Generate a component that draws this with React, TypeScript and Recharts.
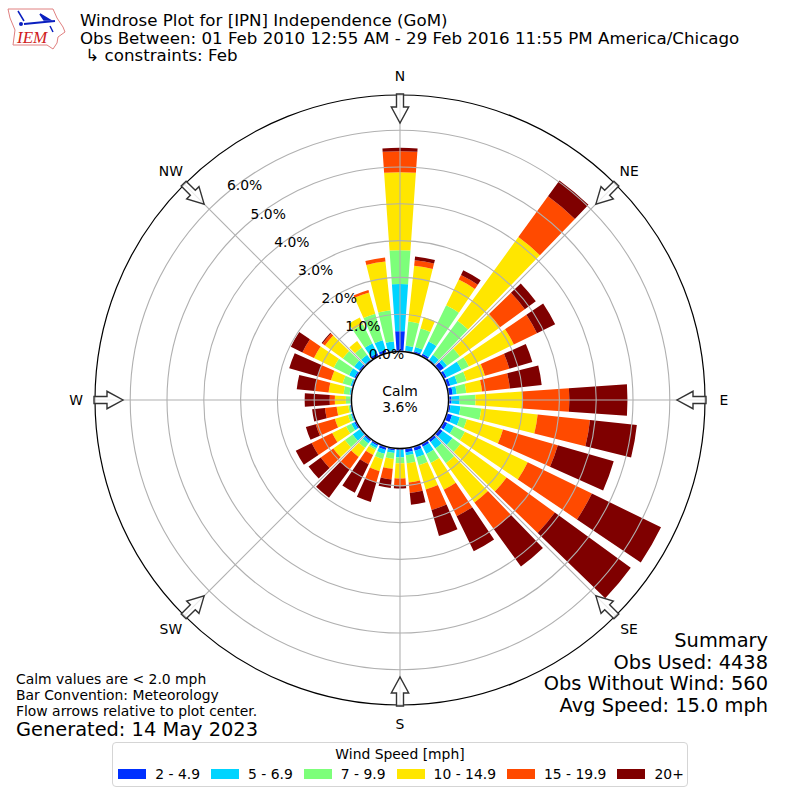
import {
  PolarAngleAxis,
  PolarGrid,
  PolarRadiusAxis,
  RadialBar,
  RadialBarChart,
} from "recharts";

const FONT = "'DejaVu Sans', sans-serif";

const directions = [
  0, 10, 20, 30, 40, 50, 60, 70, 80, 90, 100, 110, 120, 130, 140, 150, 160, 170,
  180, 190, 200, 210, 220, 230, 240, 250, 260, 270, 280, 290, 300, 310, 320, 330, 340, 350,
];

// percent of obs per direction, one array per speed bin
const speed2to5 = [
  0.54, 0.02, 0.05, 0.07, 0.03, 0.15, 0.08, 0.09, 0.11, 0.07, 0.05, 0.14, 0.1, 0.1, 0.08, 0.08, 0.1, 0.1,
  0.03, 0.05, 0.08, 0.05, 0.05, 0.02, 0.05, 0.03, 0.03, 0.01, 0.02, 0.03, 0.05, 0.05, 0.03, 0.08, 0.08, 0.03,
];
const speed5to7 = [
  1.28, 0.13, 0.12, 0.37, 0.16, 0.1, 0.45, 0.2, 0.11, 0.22, 0.27, 0.22, 0.2, 0.33, 0.22, 0.22, 0.19, 0.08,
  0.2, 0.07, 0.11, 0.08, 0.08, 0.24, 0.09, 0.03, 0.01, 0.01, 0.03, 0.04, 0.16, 0.16, 0.16, 0.3, 0.28, 0.24,
];
const speed7to10 = [
  0.92, 0.66, 0.52, 1.09, 1.14, 0.43, 0.22, 0.26, 0.26, 0.43, 0.57, 0.2, 0.33, 0.27, 0.49, 0.27, 0.22, 0.22,
  0.16, 0.16, 0.15, 0.05, 0.15, 0.26, 0.16, 0.08, 0.04, 0.12, 0.16, 0.22, 0.46, 0.38, 0.24, 0.58, 0.75, 0.85,
];
const speed10to15 = [
  2.12, 1.53, 0.32, 0.78, 2.81, 1.35, 1.36, 0.52, 0.43, 1.27, 1.54, 1.02, 1.9, 1.55, 1.32, 0.81, 0.69, 0.52,
  0.41, 0.27, 0.34, 0.15, 0.3, 0.39, 0.42, 0.37, 0.32, 0.3, 0.41, 0.33, 0.6, 0.6, 0.22, 0.2, 0.6, 1.33,
];
const speed15to20 = [
  0.57, 0.15, 0, 0.14, 1.37, 0.83, 0.7, 0.69, 0.76, 1.28, 1.43, 1.55, 1.94, 1.62, 0.9, 0.8, 0.58, 0.29,
  0.21, 0.29, 0.32, 0.28, 0.42, 0.42, 0.62, 0.54, 0.32, 0.14, 0.37, 0.37, 0.35, 0.08, 0, 0, 0.07, 0.11,
];
const speed20plus = [
  0.09, 0.1, 0, 0.14, 0.53, 0.37, 0.55, 0.65, 0.87, 1.58, 1.28, 1.58, 2.09, 2.55, 1.25, 1.06, 0.73, 0.32,
  0.06, 0.23, 0.55, 0.86, 0.95, 0.41, 0.48, 0.28, 0.35, 0.68, 0.5, 0.81, 0.35, 0.03, 0, 0, 0, 0,
];

const speedLabels = ["2 - 4.9", "5 - 6.9", "7 - 9.9", "10 - 14.9", "15 - 19.9", "20+"];
const speedColors = ["#0030ff", "#00d4ff", "#7dff7a", "#ffe600", "#ff4a00", "#7f0000"];
const speedSeries = [speed2to5, speed5to7, speed7to10, speed10to15, speed15to20, speed20plus];

const radiusTicks = [0, 1, 2, 3, 4, 5, 6];
const radiusDomain = [0, 7];
const compass = [
  ["N", 0],
  ["NE", 45],
  ["E", 90],
  ["SE", 135],
  ["S", 180],
  ["SW", 225],
  ["W", 270],
  ["NW", 315],
] as const;

const titleLines = [
  "Windrose Plot for [IPN] Independence (GoM)",
  "Obs Between: 01 Feb 2010 12:55 AM - 29 Feb 2016 11:55 PM America/Chicago",
  " ↳ constraints: Feb",
];
const summaryLines = ["Summary", "Obs Used: 4438", "Obs Without Wind: 560", "Avg Speed: 15.0 mph"];
const noteLines = [
  "Calm values are < 2.0 mph",
  "Bar Convention: Meteorology",
  "Flow arrows relative to plot center.",
];

const rows = directions.map((dir, i) => {
  const row: Record<string, number> = { dir };
  speedLabels.forEach((label, s) => {
    row[label] = speedSeries[s][i];
  });
  return row;
});

const CX = 400;
const CY = 400;
const chartProps = {
  width: 800,
  height: 800,
  data: rows,
  layout: "centric",
  cx: CX,
  cy: CY,
  innerRadius: 49,
  // the axis stops at 7 a little outside the black rim, which is drawn at 305
  outerRadius: 306.6,
  startAngle: 85,
  endAngle: -275,
  barSize: 8,
  margin: { top: 0, right: 0, bottom: 0, left: 0 },
} as const;

function RadiusTick({ x, y, payload }: any) {
  return (
    <text x={x + 18} y={y - 3} textAnchor="middle" fontSize={13.9} fontFamily={FONT} fill="#000">
      {payload.value.toFixed(1)}%
    </text>
  );
}

function Logo() {
  return (
    <g>
      <path
        d="M8 9 L53 9 L57 18 L63 27 L65 32 L58 37 L57 43 L53 49 L47 45 L13 45 L15 30 L10 18 Z"
        fill="none"
        stroke="#e08080"
        strokeWidth={1}
      />
      <path d="M24 24 L55 21" stroke="#0a1fc0" strokeWidth={2} fill="none" />
      <path d="M18 11 L24 21 M40 14 L50 20 L44 20 Z M50 26 L53 32" stroke="#0a1fc0" strokeWidth={1.5} fill="#0a1fc0" />
      <circle cx={21} cy={24} r={2} fill="#0a1fc0" />
      <text x={17} y={43} fontFamily="'Liberation Serif', serif" fontStyle="italic" fontSize={17} fill="#d02020">
        IEM
      </text>
    </g>
  );
}

function Overlay() {
  return (
    <svg width={800} height={800} style={{ position: "absolute", left: 0, top: 0, pointerEvents: "none" }}>
      <Logo />
      <g fontFamily={FONT} fill="#000">
        {titleLines.map((t, i) => (
          <text key={t} x={80} y={26 + i * 17.5} fontSize={16.67} style={{ whiteSpace: "pre" }}>
            {t}
          </text>
        ))}
        <circle cx={CX} cy={CY} r={305} fill="none" stroke="#000" strokeWidth={1.2} />
        {compass.map(([name, deg]) => {
          const rad = (deg * Math.PI) / 180;
          return (
            <g key={name}>
              <path
                transform={`rotate(${deg} ${CX} ${CY})`}
                d={`M${CX - 3.5} ${CY - 306} L${CX + 3.5} ${CY - 306} L${CX + 3.5} ${CY - 293} L${CX + 8.7} ${CY - 293} L${CX} ${CY - 277} L${CX - 8.7} ${CY - 293} L${CX - 3.5} ${CY - 293} Z`}
                fill="#ffffff"
                fillOpacity={0.75}
                stroke="#333"
                strokeWidth={1.4}
              />
              <text
                x={CX + 324 * Math.sin(rad)}
                y={CY - 324 * Math.cos(rad) + 5}
                textAnchor="middle"
                fontSize={13.9}
              >
                {name}
              </text>
            </g>
          );
        })}
        <circle cx={CX} cy={CY} r={48.5} fill="none" stroke="#000" strokeWidth={1.3} />
        <text x={CX} y={396} textAnchor="middle" fontSize={13.9}>
          Calm
        </text>
        <text x={CX} y={412} textAnchor="middle" fontSize={13.9}>
          3.6%
        </text>
        {summaryLines.map((t, i) => (
          <text key={t} x={768} y={647 + i * 21.7} textAnchor="end" fontSize={19.4}>
            {t}
          </text>
        ))}
        {noteLines.map((t, i) => (
          <text key={t} x={16} y={684 + i * 16.2} fontSize={13.9}>
            {t}
          </text>
        ))}
        <text x={16} y={736} fontSize={19.4}>
          Generated: 14 May 2023
        </text>
      </g>
    </svg>
  );
}

function SpeedLegend() {
  return (
    <div
      style={{
        position: "absolute",
        left: 112,
        top: 742,
        width: 576,
        height: 45,
        boxSizing: "border-box",
        border: "1px solid #d5d5d5",
        borderRadius: 4,
        background: "#fff",
        fontFamily: FONT,
        fontSize: 13.9,
        color: "#000",
      }}
    >
      <div style={{ textAlign: "center", lineHeight: "16px", marginTop: 3 }}>Wind Speed [mph]</div>
      <div style={{ display: "flex", justifyContent: "center", alignItems: "center", marginTop: 3, lineHeight: "18px", paddingLeft: 2 }}>
        {speedLabels.map((label, i) => (
          <div key={label} style={{ display: "flex", alignItems: "center", marginLeft: i ? 11 : 0 }}>
            <span style={{ width: 28, height: 10, background: speedColors[i], marginRight: 9 }} />
            <span style={{ whiteSpace: "nowrap" }}>{label}</span>
          </div>
        ))}
      </div>
    </div>
  );
}

export default function App() {
  return (
    <div style={{ position: "absolute", left: 0, top: 0, width: 800, height: 800, background: "#fff" }}>
      <div style={{ position: "absolute", left: 0, top: 0 }}>
        <RadialBarChart {...chartProps}>
          <PolarAngleAxis dataKey="dir" type="category" tick={false} tickLine={false} axisLine={false} />
          <PolarRadiusAxis type="number" domain={radiusDomain} ticks={radiusTicks} allowDataOverflow axisLine={false} tickLine={false} tick={false} />
          {speedLabels.map((label, i) => (
            <RadialBar key={label} dataKey={label} stackId="wind" fill={speedColors[i]} isAnimationActive={false} />
          ))}
        </RadialBarChart>
      </div>
      {/* second chart on top so the grid crosses the bars, as in the original */}
      <div style={{ position: "absolute", left: 0, top: 0 }}>
        <RadialBarChart {...chartProps}>
          <PolarAngleAxis dataKey="dir" type="category" tick={false} tickLine={false} axisLine={false} />
          <PolarRadiusAxis
            type="number"
            domain={radiusDomain}
            ticks={radiusTicks}
            allowDataOverflow
            angle={130}
            axisLine={false}
            tickLine={false}
            tick={RadiusTick}
          />
          <PolarGrid gridType="circle" polarAngles={[90, 45, 0, -45, -90, -135, 180, 135]} stroke="#b0b0b0" strokeWidth={1.1} />
        </RadialBarChart>
      </div>
      <Overlay />
      <SpeedLegend />
    </div>
  );
}
